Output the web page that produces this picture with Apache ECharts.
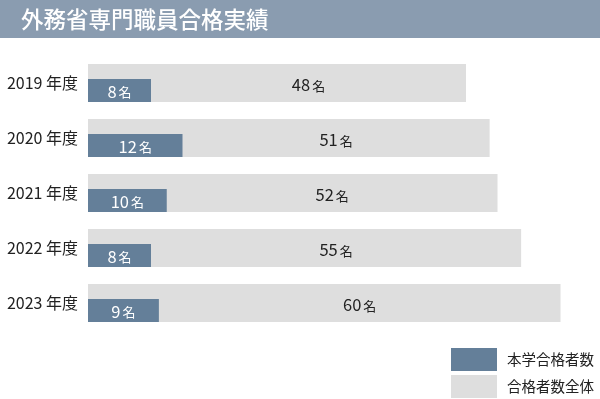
<!DOCTYPE html>
<html><head><meta charset="utf-8">
<script src="https://cdn.jsdelivr.net/npm/echarts@6/dist/echarts.min.js"></script>
<style>html,body{margin:0;padding:0;background:#fff}#c{width:600px;height:399px}</style>
</head><body><div id="c"></div>
<script>
const categories = ['2019 年度','2020 年度','2021 年度','2022 年度','2023 年度'];
const ourPasses = [8, 12, 10, 8, 9];
const totalPasses = [48, 51, 52, 55, 60];
const restPasses = totalPasses.map((t, i) => t - ourPasses[i]);

const FONT = '"Noto Sans CJK JP","Noto Sans",sans-serif';
const BLUE = '#647f99', GRAY = '#dedede';
const chart = echarts.init(document.getElementById('c'));
const rich = {
  n: {fontSize: 16.5, fontFamily: FONT},
  u: {fontSize: 13, fontFamily: FONT, padding: [2, 0, 0, 2]}
};
chart.setOption({
  animation: false,
  title: {text: '外務省専門職員合格実績', left: 16, top: 3,
    textStyle: {color: '#fff', fontSize: 22.5, fontWeight: 500, fontFamily: FONT}},
  graphic: [{type: 'rect', left: 0, top: 0, z: -1, shape: {width: 600, height: 38}, style: {fill: '#8a9cb0'}}],
  legend: {data: ['本学合格者数', '合格者数全体'], orient: 'vertical', left: 451, top: 348, padding: 0,
    itemWidth: 46, itemHeight: 23, itemGap: 4, icon: 'rect',
    textStyle: {fontSize: 14.5, color: '#222', fontFamily: FONT, padding: [0, 0, 0, 5]}},
  grid: [
    {left: 88, width: 504, top: 55.5, height: 275},
    {left: 88, width: 504, top: 63, height: 275}
  ],
  xAxis: [
    {gridIndex: 0, type: 'value', min: 0, max: 64, show: false},
    {gridIndex: 1, type: 'value', min: 0, max: 64, show: false}
  ],
  yAxis: [
    {gridIndex: 0, type: 'category', data: categories, inverse: true,
      axisLine: {show: false}, axisTick: {show: false},
      axisLabel: {fontSize: 16, color: '#222', fontFamily: FONT, margin: 10}},
    {gridIndex: 1, type: 'category', data: categories, inverse: true, show: false}
  ],
  series: [
    {name: '合格者数全体', type: 'bar', xAxisIndex: 0, yAxisIndex: 0, data: totalPasses,
      barWidth: 38, barGap: '-100%', itemStyle: {color: GRAY}, silent: true},
    {name: 'base', type: 'bar', xAxisIndex: 0, yAxisIndex: 0, data: ourPasses, stack: 'r',
      barWidth: 38, barGap: '-100%', itemStyle: {color: 'rgba(0,0,0,0)'}},
    {name: 'rest', type: 'bar', xAxisIndex: 0, yAxisIndex: 0, data: restPasses, stack: 'r',
      barWidth: 38, barGap: '-100%', itemStyle: {color: 'rgba(0,0,0,0)'},
      label: {show: true, position: 'inside', color: '#222', offset: [0, 2],
        formatter: p => '{n|' + totalPasses[p.dataIndex] + '}{u|名}', rich: rich}},
    {name: '本学合格者数', type: 'bar', xAxisIndex: 1, yAxisIndex: 1, data: ourPasses,
      barWidth: 23, itemStyle: {color: BLUE}, z: 5,
      label: {show: true, position: 'inside', color: '#fff', offset: [0, 1],
        formatter: p => '{n|' + p.value + '}{u|名}', rich: rich}}
  ]
});
</script></body></html>
